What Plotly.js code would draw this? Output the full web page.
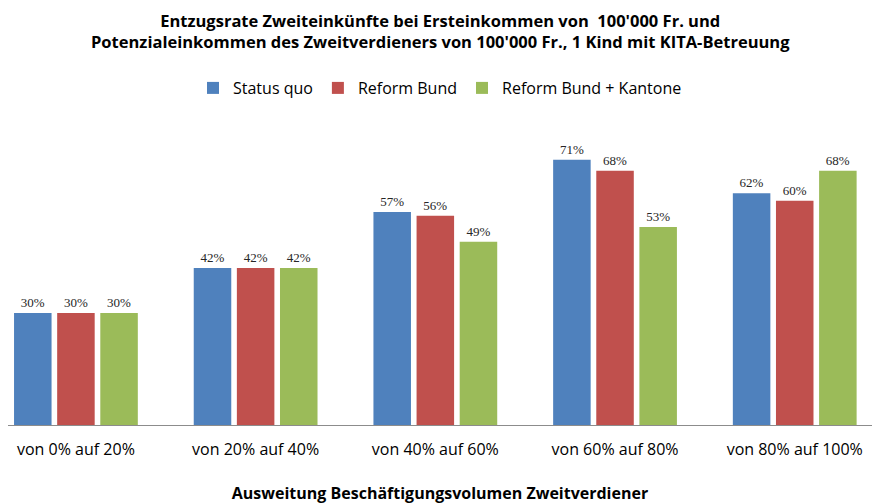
<!DOCTYPE html>
<html>
<head>
<meta charset="utf-8">
<script src="https://cdn.plot.ly/plotly-3.0.1.min.js"></script>
<style>
  html, body { margin: 0; padding: 0; background: #fff; }
  #chart { width: 872px; height: 504px; }
</style>
</head>
<body>
<div id="chart"></div>
<script>
const categories = ['von 0% auf 20%', 'von 20% auf 40%', 'von 40% auf 60%', 'von 60% auf 80%', 'von 80% auf 100%'];
const statusQuo = [30, 42, 57, 71, 62];
const reformBund = [30, 42, 56, 68, 60];
const reformBundKantone = [30, 42, 49, 53, 68];

const font = '"Open Sans", sans-serif';
const labelFont = { family: 'Liberation Serif, DejaVu Serif, serif', size: 13, color: '#262626' };

function series(name, values, color) {
    return {
        x: categories,
        y: values,
        name: name,
        type: 'bar',
        marker: { color: color },
        text: values.map(v => v + '%'),
        textposition: 'outside',
        textfont: labelFont,
        cliponaxis: false,
        hoverinfo: 'skip'
    };
}

const traces = [
    series('Status quo', statusQuo, '#4f81bd'),
    series('Reform Bund', reformBund, '#c0504d'),
    series('Reform Bund + Kantone', reformBundKantone, '#9bbb59')
];

const layout = {
    width: 872,
    height: 504,
    barmode: 'group',
    bargap: 0.28,
    bargroupgap: 0.13,
    title: { text: '' },
    annotations: [{
        text: "<b>Entzugsrate Zweiteinkünfte bei Ersteinkommen von  100'000 Fr. und<br>Potenzialeinkommen des Zweitverdieners von 100'000 Fr., 1 Kind mit KITA-Betreuung</b>",
        font: { family: font, size: 16.5, color: '#000' },
        xref: 'paper', yref: 'paper',
        x: 0.5, xanchor: 'center',
        y: (425 - 31) / 299, yanchor: 'middle',
        showarrow: false
    }],
    xaxis: {
        type: 'category',
        range: [-0.378, 4.43],
        showline: true,
        linecolor: '#8c8c8c',
        linewidth: 1,
        ticks: '',
        ticklabelstandoff: 10,
        tickfont: { family: font, size: 16, color: '#000' },
        title: {
            text: '<b>Ausweitung Beschäftigungsvolumen Zweitverdiener</b>',
            font: { family: font, size: 16, color: '#000' },
            standoff: 30
        }
    },
    yaxis: {
        range: [0, 80],
        visible: false,
        showgrid: false,
        zeroline: false
    },
    showlegend: true,
    legend: {
        orientation: 'h',
        x: 0.5,
        xanchor: 'center',
        y: (425 - 88) / 299,
        yanchor: 'middle',
        font: { family: font, size: 16, color: '#000' },
        itemwidth: 30,
        traceorder: 'normal'
    },
    margin: { l: 8, r: 0, t: 126, b: 79 },
    paper_bgcolor: '#fff',
    plot_bgcolor: '#fff'
};

Plotly.newPlot('chart', traces, layout, { displayModeBar: false, staticPlot: true });
</script>
</body>
</html>
